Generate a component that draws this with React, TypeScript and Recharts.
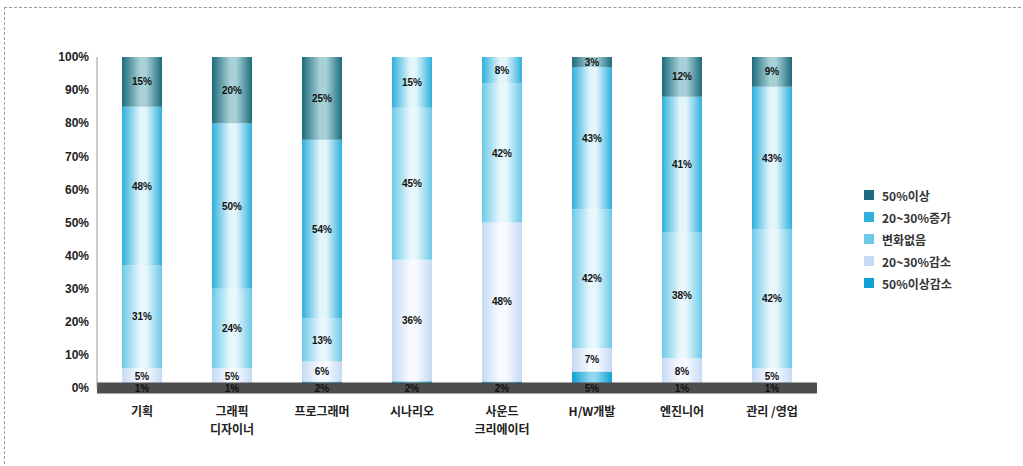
import { BarChart, Bar, XAxis, YAxis, LabelList } from "recharts";

// categories (job types)
const categories = [
  "기획",
  "그래픽\n디자이너",
  "프로그래머",
  "시나리오",
  "사운드\n크리에이터",
  "H/W개발",
  "엔진니어",
  "관리 /영업",
];

// series values, % of respondents
const down50 = [1, 1, 2, 2, 2, 5, 1, 1];
const down2030 = [5, 5, 6, 36, 48, 7, 8, 5];
const same = [31, 24, 13, 45, 42, 42, 38, 42];
const up2030 = [48, 50, 54, 15, 8, 43, 41, 43];
const over50 = [15, 20, 25, 0, 0, 3, 12, 9];

const yTicks = [0, 0.1, 0.2, 0.3, 0.4, 0.5, 0.6, 0.7, 0.8, 0.9, 1];

// stacked bottom -> top
const series = [
  { key: "down50", name: "50%이상감소", color: "#139fd3", light: "#8fd6f0", values: down50 },
  { key: "down2030", name: "20~30%감소", color: "#c6daf3", light: "#f7faff", values: down2030 },
  { key: "same", name: "변화없음", color: "#6cc9e8", light: "#e8f7fc", values: same },
  { key: "up2030", name: "20~30%증가", color: "#2fb0dc", light: "#e3f5fb", values: up2030 },
  { key: "over50", name: "50%이상", color: "#1d6b7c", light: "#a7d1d7", values: over50 },
];

const data = categories.map((name, i) => {
  const row: Record<string, string | number> = { name };
  series.forEach((s) => {
    row[s.key] = s.values[i];
  });
  return row;
});

const labelFont = "'Noto Sans CJK KR', 'Noto Sans', sans-serif";
const numFont = "'Liberation Sans', Arial, sans-serif";

function CategoryTick(props: any) {
  const { x, y, payload } = props;
  const lines = String(payload.value).split("\n");
  return (
    <text
      x={x}
      y={y + 20}
      textAnchor="middle"
      fontSize={12}
      fontWeight={700}
      fill="#222"
      fontFamily={labelFont}
    >
      {lines.map((l, i) => (
        <tspan key={i} x={x} dy={i === 0 ? 0 : 18}>
          {l}
        </tspan>
      ))}
    </text>
  );
}

// bottom-most (tiny) segment label sits on the floor, like the original
function BottomLabel(props: any) {
  const { x, y, width, height, value } = props;
  if (!value) return null;
  return (
    <text
      x={x + width / 2}
      y={y + height + 4}
      textAnchor="middle"
      fontSize={10}
      fontWeight={700}
      fill="#111"
      fontFamily={numFont}
    >
      {`${value}%`}
    </text>
  );
}

function LegendBox() {
  // legend lists the top of the stack first
  const items = [...series].reverse();
  return (
    <div style={{ fontFamily: labelFont, fontSize: 12, fontWeight: 700, color: "#333" }}>
      {items.map((s) => (
        <div key={s.key} style={{ display: "flex", alignItems: "center", height: 22 }}>
          <span
            style={{
              display: "inline-block",
              width: 10,
              height: 10,
              marginRight: 8,
              background: s.color,
            }}
          />
          {s.name}
        </div>
      ))}
    </div>
  );
}

export default function App() {
  return (
    <div style={{ position: "absolute", left: 0, top: 0, width: 1023, height: 466, background: "#fff", overflow: "hidden" }}>
      <div
        style={{
          position: "absolute",
          left: 4,
          top: 7,
          width: 1040,
          height: 480,
          border: "1px dashed #9a9a9a",
        }}
      />
      <div style={{ position: "absolute", left: 0, top: 0 }}>
        <BarChart
          width={1023}
          height={466}
          data={data}
          stackOffset="expand"
          barSize={40}
          margin={{ top: 57, right: 206, bottom: 48, left: 0 }}
        >
          <defs>
            {series.map((s) => (
              <linearGradient key={s.key} id={`g-${s.key}`} x1="0" y1="0" x2="1" y2="0">
                <stop offset="0%" stopColor={s.color} />
                <stop offset="45%" stopColor={s.light} />
                <stop offset="60%" stopColor={s.light} />
                <stop offset="100%" stopColor={s.color} />
              </linearGradient>
            ))}
          </defs>
          <XAxis
            dataKey="name"
            interval={0}
            height={30}
            tick={<CategoryTick />}
            tickLine={false}
            axisLine={{ stroke: "#4d4d4d", strokeWidth: 11 }}
          />
          <YAxis
            width={97}
            domain={[0, 1]}
            ticks={yTicks}
            tickFormatter={(v: number) => `${Math.round(v * 100)}%`}
            tick={{ fontSize: 12, fontWeight: 700, fill: "#222", fontFamily: numFont }}
            tickLine={false}
            axisLine={{ stroke: "#999" }}
          />
          {series.map((s, idx) => (
            <Bar
              key={s.key}
              dataKey={s.key}
              name={s.name}
              stackId="a"
              fill={`url(#g-${s.key})`}
              isAnimationActive={false}
            >
              {idx === 0 ? (
                <LabelList dataKey={s.key} content={<BottomLabel />} />
              ) : (
                <LabelList
                  dataKey={s.key}
                  position="center"
                  formatter={(v: any) => (v ? `${v}%` : "")}
                  style={{ fontSize: 10, fontWeight: 700, fill: "#111", fontFamily: numFont }}
                />
              )}
            </Bar>
          ))}
        </BarChart>
      </div>
      <div style={{ position: "absolute", left: 864, top: 184 }}>
        <LegendBox />
      </div>
    </div>
  );
}
